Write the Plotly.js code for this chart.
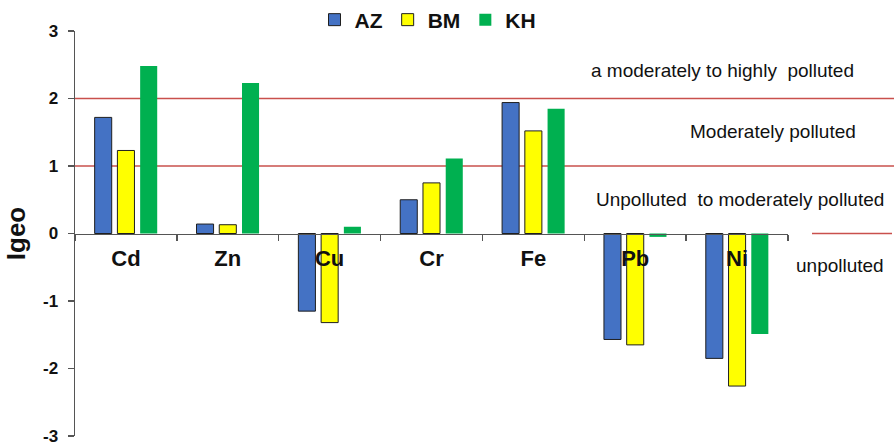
<!DOCTYPE html>
<html>
<head>
<meta charset="utf-8">
<script src="https://cdn.plot.ly/plotly-3.0.1.min.js"></script>
<style>html,body{margin:0;padding:0;background:#fff;}#chart{width:894px;height:448px;}</style>
</head>
<body>
<div id="chart"></div>
<script>
const categories = ["Cd", "Zn", "Cu", "Cr", "Fe", "Pb", "Ni"];
const seriesNames = ["AZ", "BM", "KH"];
const azValues = [1.72, 0.14, -1.15, 0.50, 1.94, -1.57, -1.85];
const bmValues = [1.23, 0.13, -1.32, 0.75, 1.52, -1.65, -2.26];
const khValues = [2.48, 2.23, 0.10, 1.11, 1.85, -0.05, -1.49];
const yTicks = [-3, -2, -1, 0, 1, 2, 3];
const classLabels = ["a moderately to highly  polluted", "Moderately polluted", "Unpolluted  to moderately polluted", "unpolluted"];
const classBounds = [2, 1, 0];

const FONT = "Liberation Sans, Arial, sans-serif";
const W = 894, H = 448, L = 75, R = 788, T = 31, B = 436;
const pw = R - L;
const px = v => (v - L) / pw;

const traces = [
  {name: seriesNames[0], x: categories, y: azValues, type: "bar",
   marker: {color: "#4472C4", line: {color: "#1f1f1f", width: 1}}},
  {name: seriesNames[1], x: categories, y: bmValues, type: "bar",
   marker: {color: "#FFFF00", line: {color: "#1f1f1f", width: 1}}},
  {name: seriesNames[2], x: categories, y: khValues, type: "bar",
   marker: {color: "#00B050", line: {color: "#00B050", width: 0}}}
];

const red = "#C9504D";
const shapes = [
  {type: "line", xref: "paper", yref: "y", x0: 0, x1: px(W), y0: classBounds[0], y1: classBounds[0], layer: "below", line: {color: red, width: 1.5}},
  {type: "line", xref: "paper", yref: "y", x0: 0, x1: px(W), y0: classBounds[1], y1: classBounds[1], layer: "below", line: {color: red, width: 1.5}},
  {type: "line", xref: "paper", yref: "y", x0: px(812), x1: px(W - 2), y0: classBounds[2], y1: classBounds[2], layer: "below", line: {color: red, width: 1.5}}
];

const annFont = {family: FONT, size: 19, color: "#111"};
const annotations = [
  {text: classLabels[0], xref: "paper", yref: "y", x: px(856), y: 2.41, xanchor: "right", yanchor: "middle", showarrow: false, font: annFont},
  {text: classLabels[1], xref: "paper", yref: "y", x: px(858), y: 1.51, xanchor: "right", yanchor: "middle", showarrow: false, font: annFont},
  {text: classLabels[2], xref: "paper", yref: "y", x: px(886), y: 0.50, xanchor: "right", yanchor: "middle", showarrow: false, font: annFont},
  {text: classLabels[3], xref: "paper", yref: "y", x: px(886), y: -0.47, xanchor: "right", yanchor: "middle", showarrow: false, font: annFont}
];

const layout = {
  width: W, height: H,
  margin: {l: L, r: W - R, t: T, b: H - B, pad: 0, autoexpand: false},
  paper_bgcolor: "#fff", plot_bgcolor: "#fff",
  font: {family: FONT, color: "#111"},
  barmode: "group", bargap: 0.33, bargroupgap: 0.25,
  showlegend: true,
  legend: {orientation: "h", x: px(428), xanchor: "center", y: 1 + 11 / (B - T), yanchor: "middle",
           font: {family: FONT, size: 21, color: "#111", weight: "bold"}, itemwidth: 30,
           tracegroupgap: 0, bgcolor: "rgba(0,0,0,0)"},
  xaxis: {type: "category", anchor: "free", position: 0.5, showline: true, linecolor: "#555", linewidth: 1.5,
          ticks: "outside", tickson: "boundaries", ticklen: 6, tickcolor: "#555", tickwidth: 1.5,
          showgrid: false, zeroline: false, ticklabelstandoff: 5,
          tickfont: {family: FONT, size: 22, color: "#111", weight: "bold"}},
  yaxis: {range: [-3, 3], tickvals: yTicks, ticktext: yTicks.map(String), showline: true, linecolor: "#555", linewidth: 1.5,
          ticks: "outside", ticklen: 6, tickcolor: "#555", tickwidth: 1.5, showgrid: false, zeroline: false,
          ticklabelstandoff: 6, ticklabeloverflow: "allow",
          tickfont: {family: FONT, size: 17, color: "#111", weight: "bold"},
          title: {text: "Igeo", standoff: 10, font: {family: FONT, size: 26, color: "#111", weight: "bold"}}},
  shapes: shapes,
  annotations: annotations
};

Plotly.newPlot("chart", traces, layout, {displayModeBar: false, staticPlot: true});
</script>
</body>
</html>
